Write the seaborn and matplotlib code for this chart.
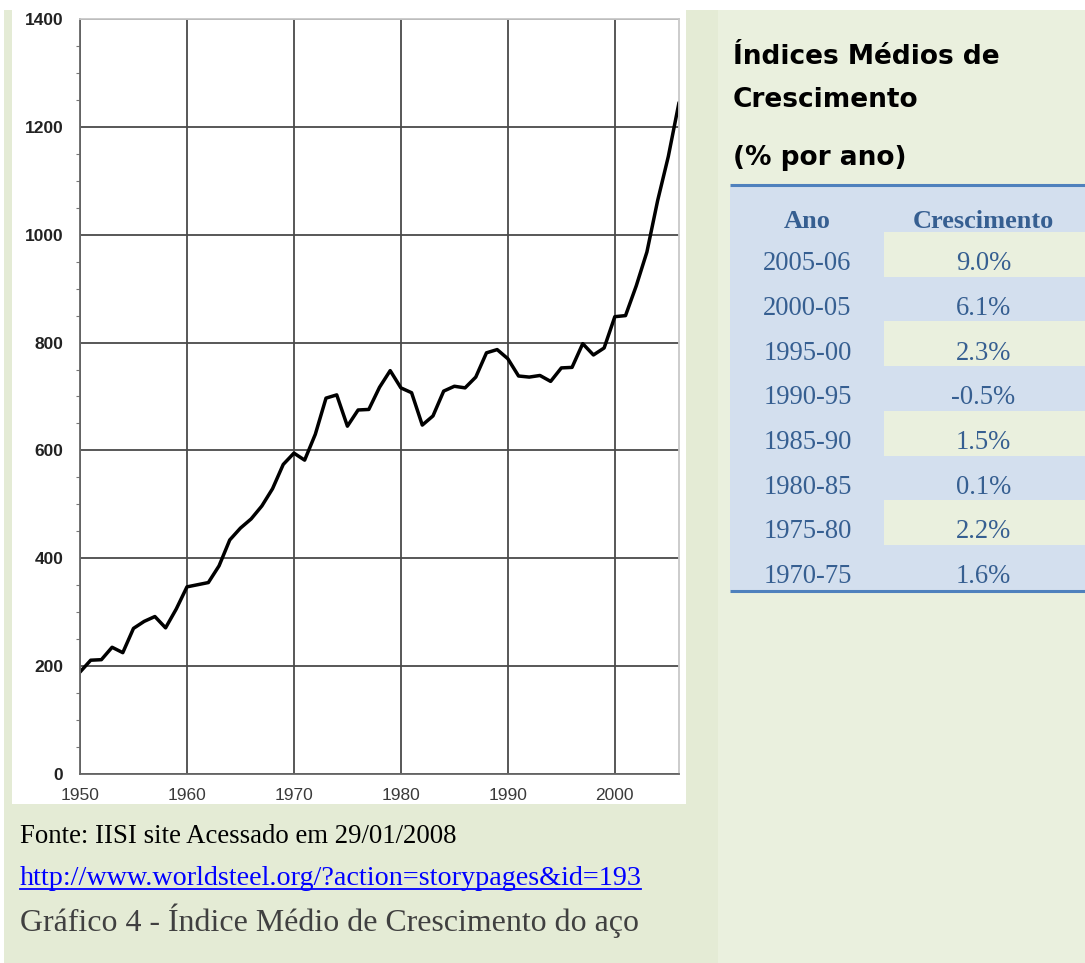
import matplotlib
matplotlib.use('Agg')
import matplotlib.pyplot as plt
from matplotlib.patches import Rectangle
from matplotlib.ticker import MultipleLocator
import seaborn as sns

# ---------------- data ----------------
years = list(range(1950, 2007))
production = [189, 211, 212, 235, 225, 270, 283, 292, 271, 306,
              347, 351, 355, 386, 434, 456, 473, 497, 529, 574,
              595, 582, 630, 697, 703, 645, 675, 676, 717, 748,
              716, 707, 647, 664, 710, 719, 716, 736, 781, 787,
              770, 738, 736, 739, 728, 753, 754, 798, 777, 790,
              848, 850, 905, 968, 1063, 1145, 1245]
x_ticks = [1950, 1960, 1970, 1980, 1990, 2000]
y_ticks = [0, 200, 400, 600, 800, 1000, 1200, 1400]

periods = ["2005-06", "2000-05", "1995-00", "1990-95", "1985-90",
           "1980-85", "1975-80", "1970-75"]
growth = ["9.0%", "6.1%", "2.3%", "-0.5%", "1.5%", "0.1%", "2.2%", "1.6%"]
header = ["Ano", "Crescimento"]
title_lines = ["Índices Médios de", "Crescimento", "(% por ano)"]
source_text = "Fonte: IISI site Acessado em 29/01/2008"
url_text = "http://www.worldsteel.org/?action=storypages&id=193"
caption_text = "Gráfico 4 - Índice Médio de Crescimento do aço"

# ---------------- figure ----------------
W, H = 1085, 963
fig = plt.figure(figsize=(W / 100, H / 100), dpi=100)
fig.patch.set_facecolor('white')

GREEN_D = '#e4ebd5'
GREEN_L = '#eaf0de'
BLUE_CELL = '#d3dfee'
BLUE_LINE = '#4f81bd'
TXT_BLUE = '#365f91'

bg = fig.add_axes([0, 0, 1, 1])
bg.set_xlim(0, W)
bg.set_ylim(H, 0)
bg.axis('off')
bg.set_zorder(0)
bg.add_patch(Rectangle((4, 10), W - 4, H - 10, color=GREEN_D, lw=0))
bg.add_patch(Rectangle((718, 10), W - 718, H - 10, color=GREEN_L, lw=0))
bg.add_patch(Rectangle((12, 0), 674, 804, color='white', lw=0))

renderer = fig.canvas.get_renderer()


def fit(t, target):
    bb = t.get_window_extent(renderer)
    t.set_fontsize(t.get_fontsize() * target / bb.width)
    return t

# ---------------- chart ----------------
ax = fig.add_axes([80 / W, (H - 774) / H, 599 / W, 755 / H])
ax.set_zorder(2)
ax.set_facecolor('white')
sns.lineplot(x=years, y=production, ax=ax, color='black', lw=2.5)
for ln in ax.get_lines():
    ln.set_solid_joinstyle('round')
    ln.set_solid_capstyle('round')
ax.set_xlim(1950, 2006)
ax.set_ylim(0, 1400)
ax.set_xticks(x_ticks)
ax.set_yticks(y_ticks)
ax.set_xticklabels([str(v) for v in x_ticks], fontfamily='Liberation Sans',
                   fontsize=12.5, color='#3a3a3a')
ax.set_yticklabels([str(v) for v in y_ticks], fontfamily='Liberation Sans',
                   fontsize=12.5, fontweight='bold', color='#222222')
ax.yaxis.set_minor_locator(MultipleLocator(50))
ax.tick_params(axis='both', which='major', length=0)
ax.tick_params(axis='y', which='major', pad=12)
ax.tick_params(axis='x', which='major', pad=10)
ax.tick_params(axis='y', which='minor', length=3, width=0.8, color='#777777',
               direction='out')
ax.grid(True, which='major', color='#4a4a4a', lw=1.3)
ax.set_axisbelow(True)
for side in ['left', 'bottom']:
    ax.spines[side].set_color('#666666')
    ax.spines[side].set_linewidth(1.3)
for side in ['top', 'right']:
    ax.spines[side].set_color('#c8c8c8')
    ax.spines[side].set_linewidth(1.3)
ax.set_xlabel('')
ax.set_ylabel('')

# ---------------- right panel ----------------
t1 = bg.text(733, 64, title_lines[0], fontfamily='DejaVu Sans', fontweight='bold',
             fontsize=14, color='black', va='baseline', ha='left')
fit(t1, 268)
fs_title = t1.get_fontsize()
bg.text(733, 107, title_lines[1], fontfamily='DejaVu Sans', fontweight='bold',
        fontsize=fs_title, color='black', va='baseline', ha='left')
bg.text(733, 165, title_lines[2], fontfamily='DejaVu Sans', fontweight='bold',
        fontsize=fs_title, color='black', va='baseline', ha='left')

tx0, tx_mid, tx1 = 730, 884, W
top_line = 185
hdr_top, hdr_bot = 187, 232
row_h = (590 - hdr_bot) / len(periods)
col_c = [(tx0 + tx_mid) / 2 + 0.5, (tx_mid + tx1) / 2 - 1]

bg.add_patch(Rectangle((tx0, hdr_top), tx1 - tx0, 590 - hdr_top, color=BLUE_CELL, lw=0))
for i in range(len(periods)):
    if i % 2 == 0:
        y0 = hdr_bot + i * row_h
        bg.add_patch(Rectangle((tx_mid, y0), tx1 - tx_mid, row_h, color=GREEN_L, lw=0))
bg.plot([tx0, tx1], [top_line, top_line], color=BLUE_LINE, lw=2.2, solid_capstyle='butt')
bg.plot([tx0, tx1], [591, 591], color=BLUE_LINE, lw=2.2, solid_capstyle='butt')

h2 = bg.text(col_c[1], 228, header[1], fontfamily='Liberation Serif', fontweight='bold',
             fontsize=16, color=TXT_BLUE, ha='center', va='baseline')
fit(h2, 142)
bg.text(col_c[0], 228, header[0], fontfamily='Liberation Serif', fontweight='bold',
        fontsize=h2.get_fontsize(), color=TXT_BLUE, ha='center', va='baseline')

probe = bg.text(0, 0, periods[0], fontfamily='Liberation Serif', fontsize=16)
fit(probe, 89)
fs_cell = probe.get_fontsize()
probe.remove()
for i, (p, g) in enumerate(zip(periods, growth)):
    yb = hdr_bot + i * row_h + 38
    bg.text(col_c[0], yb, p, fontfamily='Liberation Serif', fontsize=fs_cell,
            color=TXT_BLUE, ha='center', va='baseline')
    bg.text(col_c[1], yb, g, fontfamily='Liberation Serif', fontsize=fs_cell,
            color=TXT_BLUE, ha='center', va='baseline')

# ---------------- bottom texts ----------------
s = bg.text(20, 843, source_text, fontfamily='Liberation Serif', fontsize=16,
            color='black', ha='left', va='baseline')
fit(s, 436)
u = bg.text(20, 885, url_text, fontfamily='Liberation Serif', fontsize=16,
            color='#0000ff', ha='left', va='baseline')
fit(u, 621)
bg.plot([20, 641], [889, 889], color='#0000ff', lw=1.3)
c = bg.text(20, 931, caption_text, fontfamily='Liberation Serif', fontsize=18,
            color='#404040', ha='left', va='baseline')
fit(c, 618)

fig.savefig('out.png', dpi=100, facecolor=fig.get_facecolor())
